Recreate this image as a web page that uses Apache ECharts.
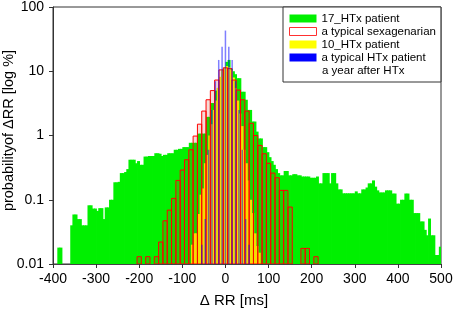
<!DOCTYPE html>
<html>
<head>
<meta charset="utf-8">
<script src="https://cdn.jsdelivr.net/npm/echarts@6/dist/echarts.min.js"></script>
<style>
  html, body { margin: 0; padding: 0; background: #fff; }
  #chart { width: 454px; height: 316px; }
</style>
</head>
<body>
<div id="chart"></div>
<script>
// ΔRR histograms, probability in % per bin (log axis)

// 17_HTx patient: 5 ms bins, left edges from -400
const greenStart = -400;
const greenWidth = 5;
const greenValues = [
  0, 0, 0.018, 0.018, 0, 0, 0, 0, 0.040, 0.059,
  0.059, 0.050, 0.050, 0.040, 0.040, 0.040, 0.082, 0.082, 0.073, 0.073,
  0.067, 0.074, 0.074, 0.050, 0.076, 0.076, 0.10, 0.10, 0.187, 0.187,
  0.19, 0.26, 0.26, 0.27, 0.30, 0.42, 0.42, 0.42, 0.37, 0.40,
  0.35, 0.35, 0.47, 0.47, 0.48, 0.48, 0.48, 0.53, 0.53, 0.52,
  0.48, 0.50, 0.50, 0.53, 0.53, 0.53, 0.60, 0.60, 0.62, 0.62,
  0.66, 0.66, 0.66, 0.77, 0.77, 0.77, 0.77, 1.07, 1.07, 1.07,
  1.07, 1.95, 1.95, 3.2, 3.2, 5.0, 5.5, 8.0, 10.0, 11.0,
  14.0, 15.0, 11.0, 10.0, 9.0, 7.8, 7.8, 4.8, 4.8, 3.6,
  2.5, 2.5, 1.65, 1.65, 1.15, 0.9, 0.9, 0.66, 0.66, 0.55,
  0.46, 0.40, 0.35, 0.30, 0.26, 0.24, 0.24, 0.28, 0.28, 0.24,
  0.24, 0.25, 0.25, 0.24, 0.24, 0.23, 0.23, 0.23, 0.23, 0.22,
  0.22, 0.22, 0.23, 0.18, 0.18, 0.26, 0.26, 0.26, 0.18, 0.26,
  0.26, 0.18, 0.145, 0.145, 0.126, 0.126, 0.126, 0.126, 0.126, 0.126,
  0.135, 0.126, 0.126, 0.145, 0.145, 0.155, 0.18, 0.18, 0.20, 0.16,
  0.14, 0.13, 0.13, 0.13, 0.14, 0.14, 0.14, 0.125, 0.125, 0.087,
  0.087, 0.10, 0.10, 0.125, 0.125, 0.10, 0.10, 0.062, 0.062, 0.062,
  0.046, 0.046, 0.034, 0.028, 0.051, 0.028, 0.028, 0.0138, 0.0138, 0.0186
];

// a typical sexagenarian: 10 ms bins, left edges from -205
const redStart = -205;
const redWidth = 10;
const redValues = [
  0.013, 0, 0.013, 0, 0.013,
  0.022, 0.047, 0.069, 0.105, 0.20, 0.29, 0.42, 0.60, 0.98, 1.5,
  2.4, 3.6, 5.0, 7.3, 10.5, 11.3, 11.0, 7.3, 5.1, 3.6,
  2.4, 1.55, 1.0, 0.70, 0.52, 0.37, 0.26, 0.22, 0.14, 0.14,
  0.077, 0, 0, 0.0175, 0.0175, 0, 0.013
];

// 10_HTx patient: 5 ms bins, left edges from -80
const yellowStart = -80;
const yellowWidth = 5;
const yellowValues = [
  0.02, 0.03, 0.03, 0.06, 0.12, 0.15, 0.37, 0.5, 1.0, 1.5,
  2.5, 3.5, 5.5, 8.2, 10.4, 11.5, 12.0, 11.5, 10.5, 8.0,
  5.5, 3.5, 2.2, 1.4, 0.6, 0.37, 0.20, 0.10, 0.062, 0.03,
  0.019, 0.015
];

// typical HTx patient a year after HTx: narrow spikes (ΔRR quantised at 7.8 ms)
const blueCenters = [-54.7, -46.9, -39.1, -31.3, -23.4, -15.6, -7.8, 0, 7.8, 15.6, 23.4, 31.3, 39.1, 46.9, 54.7];
const blueValues = [0.02, 0.05, 0.6, 2.5, 7, 15, 24, 43, 24, 15, 7, 2.5, 0.6, 0.05, 0.02];
const blueWidth = 3.5;

const Y_MIN = 0.01;
const FONT = '"Liberation Sans", Arial, sans-serif';

function binData(start, width, values) {
  const out = [];
  values.forEach((v, i) => {
    if (v > 0) out.push([start + i * width, start + (i + 1) * width, v]);
  });
  return out;
}

const blueData = blueCenters.map((c, i) => [c - blueWidth / 2, c + blueWidth / 2, blueValues[i]]);

// overlap (px) closes the anti-aliasing seams between neighbouring filled bins
function makeRender(style, overlap) {
  return (params, api) => {
    const p0 = api.coord([api.value(0), api.value(2)]);
    const p1 = api.coord([api.value(1), Y_MIN]);
    return {
      type: 'rect',
      shape: { x: p0[0], y: p0[1], width: p1[0] - p0[0] + (overlap || 0), height: p1[1] - p0[1] },
      style: style
    };
  };
}

const chart = echarts.init(document.getElementById('chart'), null, { renderer: 'canvas' });

const option = {
  animation: false,
  backgroundColor: '#fff',
  grid: {
    left: 53, right: 13, top: 7, bottom: 52,
    outerBoundsMode: 'none',
    containLabel: false,
    show: true, borderColor: '#333', borderWidth: 1, backgroundColor: 'transparent'
  },
  legend: {
    orient: 'vertical',
    left: 283, top: 7,
    padding: [5, 5, 18, 6],
    itemGap: 0,
    itemWidth: 27,
    itemHeight: 8,
    borderColor: '#333',
    borderWidth: 1,
    borderRadius: 0,
    backgroundColor: '#fff',
    selectedMode: false,
    textStyle: { fontFamily: FONT, fontSize: 11.5, color: '#000', lineHeight: 13 },
    data: [
      { name: '17_HTx patient', icon: 'rect', itemStyle: { color: '#00f000' } },
      { name: 'a typical sexagenarian', icon: 'rect', itemStyle: { color: '#fff', borderColor: '#ff3030', borderWidth: 1 } },
      { name: '10_HTx patient', icon: 'rect', itemStyle: { color: '#ffff00' } },
      { name: 'a typical HTx patient', icon: 'rect', itemStyle: { color: '#0000ff' } }
    ]
  },
  graphic: [{
    type: 'text', left: 322, top: 65, z: 100,
    style: { text: 'a year after HTx', font: '11.5px ' + FONT, fill: '#000' }
  }],
  xAxis: {
    type: 'value',
    min: -400, max: 500, interval: 100,
    name: 'Δ RR [ms]',
    nameLocation: 'middle',
    nameGap: 29,
    nameMoveOverlap: false,
    nameTextStyle: { fontFamily: FONT, fontSize: 15, color: '#000', padding: [0, 26, 0, 0] },
    axisLine: { show: true, onZero: false, lineStyle: { color: '#444', width: 1 } },
    axisTick: { show: true, inside: false, length: 4, lineStyle: { color: '#333' } },
    axisLabel: { fontFamily: FONT, fontSize: 14, color: '#000', margin: 8 },
    splitLine: { show: false }
  },
  yAxis: {
    type: 'log',
    logBase: 10,
    min: 0.01, max: 100,
    name: 'probabilityof ΔRR [log %]',
    nameLocation: 'middle',
    nameGap: 37,
    nameRotate: 90,
    nameMoveOverlap: false,
    nameTextStyle: { fontFamily: FONT, fontSize: 14.5, color: '#000', padding: [0, 0, 0, 10] },
    axisLine: { show: true, onZero: false, lineStyle: { color: '#333', width: 1 } },
    axisTick: { show: true, inside: false, length: 4, lineStyle: { color: '#333' } },
    axisLabel: {
      fontFamily: FONT, fontSize: 14, color: '#000', margin: 9,
      formatter: v => String(+(+v).toPrecision(3))
    },
    splitLine: { show: false },
    minorTick: { show: false }
  },
  series: [
    {
      name: '17_HTx patient', type: 'custom', clip: true,
      itemStyle: { color: '#00f000' },
      encode: { x: [0, 1], y: 2 },
      renderItem: makeRender({ fill: '#00f000' }, 0.8),
      data: binData(greenStart, greenWidth, greenValues)
    },
    {
      name: '10_HTx patient', type: 'custom', clip: true,
      itemStyle: { color: '#ffff00' },
      encode: { x: [0, 1], y: 2 },
      renderItem: makeRender({ fill: '#ffff00' }, 0.8),
      data: binData(yellowStart, yellowWidth, yellowValues)
    },
    {
      name: 'a typical sexagenarian', type: 'custom', clip: true,
      itemStyle: { color: '#fff', borderColor: '#ff0000' },
      encode: { x: [0, 1], y: 2 },
      renderItem: makeRender({ fill: 'rgba(190,40,0,0.16)', stroke: '#ff0000', lineWidth: 1 }),
      data: binData(redStart, redWidth, redValues)
    },
    {
      name: 'a typical HTx patient', type: 'custom', clip: true,
      itemStyle: { color: '#0000ff' },
      encode: { x: [0, 1], y: 2 },
      renderItem: makeRender({ fill: 'rgba(0,0,255,0.5)' }),
      data: blueData
    }
  ]
};

chart.setOption(option);
</script>
</body>
</html>
